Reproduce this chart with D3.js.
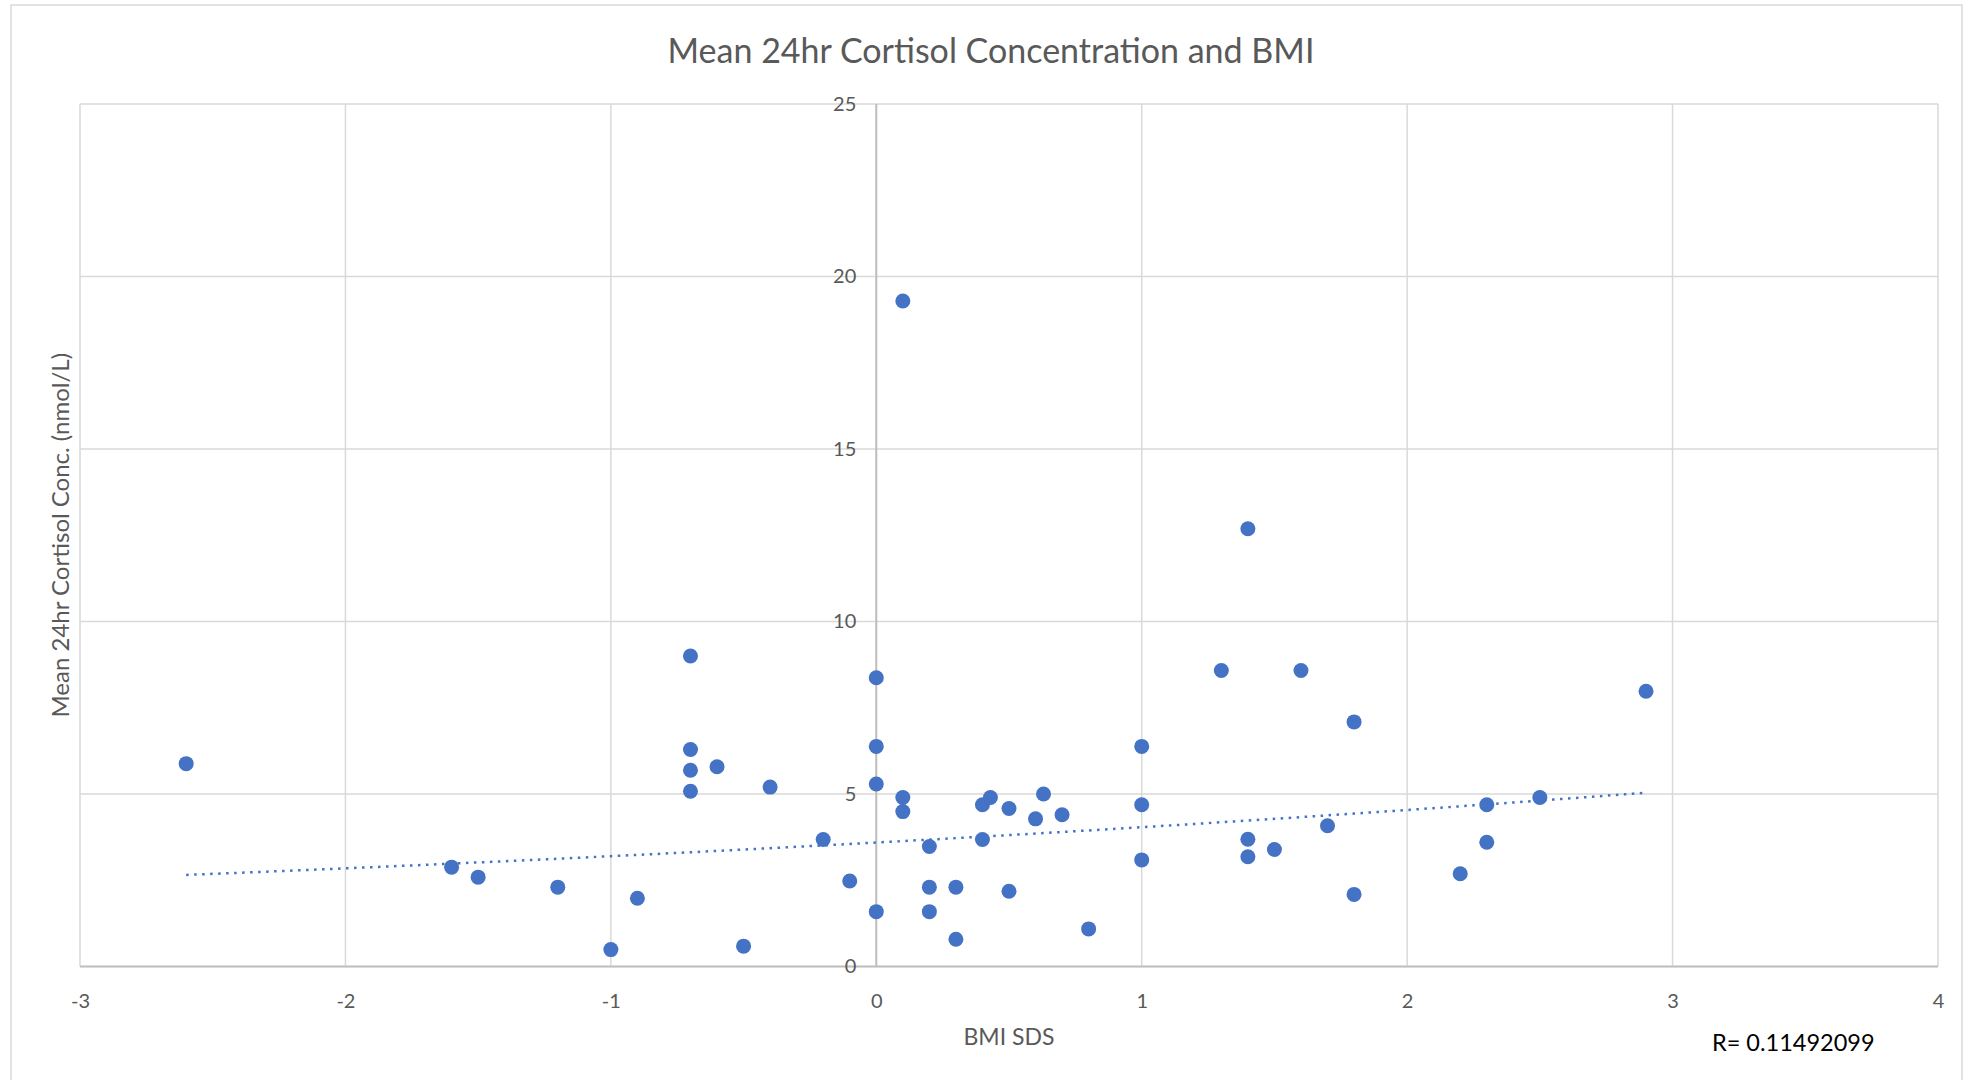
<!DOCTYPE html>
<html>
<head>
<meta charset="utf-8">
<title>Mean 24hr Cortisol Concentration and BMI</title>
<script src="https://cdn.jsdelivr.net/npm/d3@7"></script>
<style>
    body { margin: 0; background: #fff; }
    svg { display: block; font-family: Lato, "Open Sans", sans-serif; }
    .grid line { stroke: #d9d9d9; stroke-width: 1.5; }
    .axis text { fill: #595959; font-size: 20px; font-family: Lato, "Open Sans", sans-serif; }
</style>
</head>
<body>
<div id="chart"></div>
<script>
// values
const bmiSds = [
    -2.6, -1.6, -1.5, -1.2, -1.0, -0.9,
    -0.7, -0.7, -0.7, -0.7, -0.6, -0.5, -0.4, -0.2, -0.1,
    0, 0, 0, 0,
    0.1, 0.1, 0.1,
    0.2, 0.2, 0.2,
    0.3, 0.3,
    0.4, 0.4, 0.43,
    0.5, 0.5, 0.6, 0.63, 0.7, 0.8,
    1.0, 1.0, 1.0,
    1.3, 1.4, 1.4, 1.4, 1.5, 1.6, 1.7,
    1.8, 1.8, 2.2, 2.3, 2.3, 2.5, 2.9
];
const cortisol = [
    5.88, 2.88, 2.59, 2.3, 0.49, 1.98,
    9.0, 6.29, 5.69, 5.08, 5.79, 0.59, 5.2, 3.68, 2.48,
    8.37, 6.38, 5.29, 1.59,
    19.29, 4.9, 4.49,
    3.48, 2.3, 1.59,
    2.3, 0.79,
    4.69, 3.68, 4.9,
    4.58, 2.18, 4.28, 5.0, 4.4, 1.09,
    6.38, 4.69, 3.09,
    8.58, 12.69, 3.69, 3.18, 3.39, 8.58, 4.08,
    7.09, 2.09, 2.69, 4.69, 3.6, 4.9, 7.98
];
const xTicks = [-3, -2, -1, 0, 1, 2, 3, 4];
const yTicks = [0, 5, 10, 15, 20, 25];
const rText = 'R= 0.11492099';

function expFit(xs, ys) {
    // least squares on ln(y), like an exponential trendline
    const ly = ys.map(Math.log);
    const mx = d3.mean(xs), my = d3.mean(ly);
    const b = d3.sum(xs, (x, i) => (x - mx) * (ly[i] - my)) / d3.sum(xs, x => (x - mx) * (x - mx));
    const a = Math.exp(my - b * mx);
    return x => a * Math.exp(b * x);
}

function createScatter(selector) {
    const width = 1982;
    const height = 1080;
    const margin = { top: 104, right: 44, bottom: 113.5, left: 80 };
    const points = bmiSds.map((x, i) => ({ x: x, y: cortisol[i] }));

    const svg = d3.select(selector).append('svg')
        .attr('width', width)
        .attr('height', height);

    svg.append('rect')
        .attr('x', 11).attr('y', 5)
        .attr('width', 1951).attr('height', 1100)
        .attr('fill', '#fff')
        .attr('stroke', '#d9d9d9')
        .attr('stroke-width', 1.5);

    const x = d3.scaleLinear()
        .domain([-3, 4])
        .range([margin.left, width - margin.right]);

    const y = d3.scaleLinear()
        .domain([0, 25])
        .range([height - margin.bottom, margin.top]);

    // gridlines
    svg.append('g')
        .attr('class', 'grid')
        .selectAll('line')
        .data(yTicks)
        .join('line')
        .attr('x1', x(-3)).attr('x2', x(4))
        .attr('y1', d => y(d)).attr('y2', d => y(d));

    svg.append('g')
        .attr('class', 'grid')
        .selectAll('line')
        .data(xTicks)
        .join('line')
        .attr('x1', d => x(d)).attr('x2', d => x(d))
        .attr('y1', y(0)).attr('y2', y(25));

    // axis lines cross at 0
    svg.append('line')
        .attr('x1', x(0)).attr('x2', x(0))
        .attr('y1', y(0)).attr('y2', y(25))
        .attr('stroke', '#bfbfbf').attr('stroke-width', 2);

    svg.append('line')
        .attr('x1', x(-3)).attr('x2', x(4))
        .attr('y1', y(0)).attr('y2', y(0))
        .attr('stroke', '#bfbfbf').attr('stroke-width', 2);

    // tick labels
    svg.append('g')
        .attr('class', 'axis')
        .attr('transform', `translate(0,${y(0) + 34})`)
        .call(d3.axisBottom(x).tickValues(xTicks).tickFormat(d => String(d)).tickSize(0).tickPadding(0))
        .call(g => g.select('.domain').remove())
        .selectAll('text')
        .attr('dy', '0.35em');

    svg.append('g')
        .attr('class', 'axis')
        .attr('transform', `translate(${x(0) - 20},0)`)
        .call(d3.axisLeft(y).tickValues(yTicks).tickFormat(d => String(d)).tickSize(0).tickPadding(0))
        .call(g => g.select('.domain').remove());

    // trendline
    const fit = expFit(bmiSds, cortisol);
    const xr = d3.extent(bmiSds);
    const line = d3.line()
        .x(d => x(d))
        .y(d => y(fit(d)));

    svg.append('path')
        .datum(d3.range(xr[0], xr[1], 0.05).concat([xr[1]]))
        .attr('d', line)
        .attr('fill', 'none')
        .attr('stroke', '#4472c4')
        .attr('stroke-width', 2.5)
        .attr('stroke-dasharray', '2.5 5.5');

    svg.append('g')
        .selectAll('circle')
        .data(points)
        .join('circle')
        .attr('cx', d => x(d.x))
        .attr('cy', d => y(d.y))
        .attr('r', 7.5)
        .attr('fill', '#4472c4');

    // titles
    svg.append('text')
        .attr('x', width / 2)
        .attr('y', 51)
        .attr('text-anchor', 'middle')
        .attr('dy', '0.35em')
        .attr('fill', '#595959')
        .style('font-size', '34px')
        .text('Mean 24hr Cortisol Concentration and BMI');

    svg.append('text')
        .attr('x', (x(-3) + x(4)) / 2)
        .attr('y', 1037)
        .attr('text-anchor', 'middle')
        .attr('dy', '0.35em')
        .attr('fill', '#595959')
        .style('font-size', '23px')
        .text('BMI SDS');

    svg.append('text')
        .attr('transform', `translate(61,${(y(0) + y(25)) / 2}) rotate(-90)`)
        .attr('text-anchor', 'middle')
        .attr('dy', '0.35em')
        .attr('fill', '#595959')
        .style('font-size', '24px')
        .text('Mean 24hr Cortisol Conc. (nmol/L)');

    svg.append('text')
        .attr('x', 1712)
        .attr('y', 1043)
        .attr('dy', '0.35em')
        .attr('fill', '#000')
        .style('font-size', '23.5px')
        .text(rText);
}

createScatter('#chart');
</script>
</body>
</html>
